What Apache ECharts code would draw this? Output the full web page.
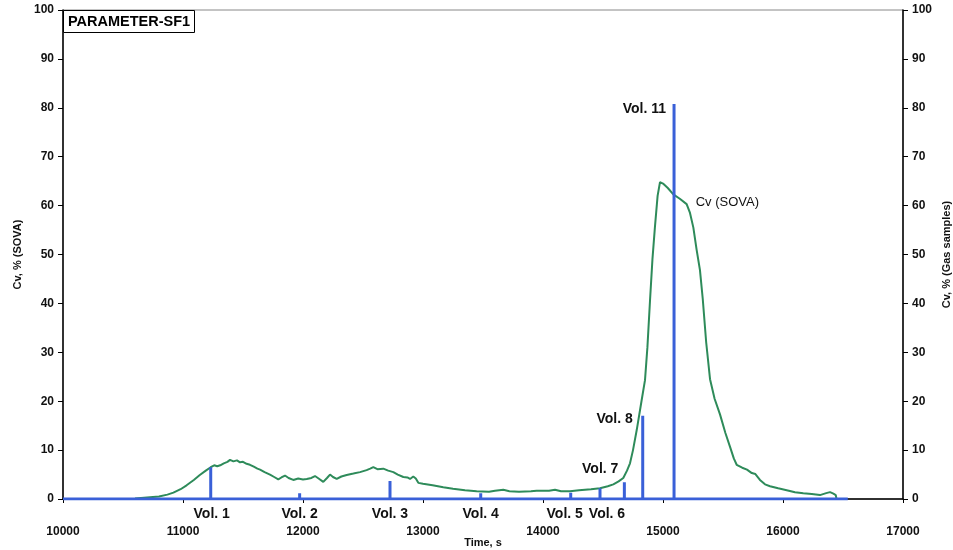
<!DOCTYPE html>
<html>
<head>
<meta charset="utf-8">
<script src="https://cdn.jsdelivr.net/npm/echarts@6/dist/echarts.min.js"></script>
<style>
  html, body { margin: 0; padding: 0; background: #fff; }
  #chart { width: 953px; height: 550px; }
</style>
</head>
<body>
<div id="chart"></div>
<script>
  // Cv (SOVA) curve
  var sovaTime = [10600, 10700, 10800, 10870, 10920, 10980, 11030, 11090, 11140, 11190, 11231, 11260, 11285, 11310, 11340, 11370, 11392, 11420, 11450, 11475,
    11500, 11530, 11558, 11590, 11620, 11642, 11680, 11725, 11760, 11794, 11820, 11850, 11880, 11919, 11960, 12000, 12031, 12070, 12100, 12130,
    12169, 12200, 12225, 12250, 12281, 12320, 12364, 12420, 12475, 12530, 12560, 12586, 12620, 12669, 12710, 12753, 12790, 12836, 12870, 12892,
    12919, 12940, 12961, 13000, 13080, 13169, 13250, 13350, 13447, 13550, 13600, 13669, 13720, 13800, 13900, 13947, 14050, 14100, 14150, 14225,
    14300, 14400, 14475, 14540, 14586, 14630, 14669, 14700, 14725, 14750, 14781, 14822, 14850, 14870, 14892, 14912, 14933, 14955, 14975, 15000,
    15040, 15086, 15140, 15197, 15225, 15253, 15280, 15308, 15331, 15360, 15392, 15430, 15475, 15520, 15558, 15590, 15614, 15660, 15700, 15740,
    15770, 15808, 15850, 15892, 15960, 16031, 16100, 16169, 16240, 16308, 16360, 16392, 16420, 16440, 16445];
  var sovaValue = [0.1, 0.3, 0.5, 0.9, 1.3, 2.0, 2.8, 3.9, 4.9, 5.8, 6.5, 6.9, 6.7, 6.9, 7.3, 7.6, 8.0, 7.7, 7.9, 7.5,
    7.6, 7.2, 7.0, 6.6, 6.2, 6.0, 5.5, 5.0, 4.5, 4.0, 4.4, 4.8, 4.3, 3.9, 4.2, 4.0, 4.1, 4.3, 4.7, 4.2,
    3.5, 4.3, 5.0, 4.5, 4.1, 4.6, 4.9, 5.2, 5.5, 5.9, 6.2, 6.5, 6.1, 6.2, 5.8, 5.5, 5.0, 4.5, 4.4, 4.1,
    4.6, 4.2, 3.3, 3.1, 2.8, 2.4, 2.1, 1.8, 1.6, 1.5, 1.7, 1.9, 1.6, 1.5, 1.6, 1.7, 1.7, 1.9, 1.6, 1.6,
    1.8, 2.0, 2.2, 2.6, 3.0, 3.6, 4.3, 5.8, 7.3, 10.0, 14.1, 20.2, 24.3, 31, 40.7, 49, 55.7, 62, 64.8, 64.5,
    63.6, 62.3, 61.4, 60.3, 58.5, 55.5, 51, 46.8, 41, 32, 24.5, 20.5, 17.3, 13.5, 10.7, 8.3, 7.0, 6.4, 6.0, 5.3,
    5.1, 3.9, 3.0, 2.6, 2.2, 1.8, 1.4, 1.2, 1.0, 0.8, 1.2, 1.4, 1.1, 0.8, 0.1];
  var sovaLabelTime = 15197;

  // gas samples
  var sampleNames = ['Vol. 1', 'Vol. 2', 'Vol. 3', 'Vol. 4', 'Vol. 5', 'Vol. 6', 'Vol. 7', 'Vol. 8', 'Vol. 11'];
  var sampleTime = [11231, 11972, 12725, 13481, 14231, 14475, 14678, 14831, 15092];
  var sampleValue = [6.5, 1.2, 3.7, 1.2, 1.3, 2.2, 3.4, 17, 80.8];
  var baselineStart = 10000;
  var baselineEnd = 16540;

  var xTicks = [10000, 11000, 12000, 13000, 14000, 15000, 16000, 17000];
  var yTicks = [0, 10, 20, 30, 40, 50, 60, 70, 80, 90, 100];

  var FONT = '"Liberation Sans", Arial, sans-serif';
  var BLUE = '#3a60d8';
  var GREEN = '#2e8b5a';

  // labels under the axis for the first six samples, beside the top for the others
  var underAxis = 6;
  var underOffset = [1, 0, 0, 0, -6, 7];
  var topOffset = {6: [0, -13], 7: [-4, 3], 8: [-2, 5]};

  var gasData = [[baselineStart, 0]];
  sampleTime.forEach(function (t, i) {
    gasData.push([t, 0], [t, sampleValue[i]], [t, 0]);
  });
  gasData.push([baselineEnd, 0]);

  var boldLabel = {fontFamily: FONT, fontSize: 14, fontWeight: 'bold', color: '#111'};

  var volLabelData = [];
  var topLabelData = [];
  sampleTime.forEach(function (t, i) {
    if (i < underAxis) {
      volLabelData.push({
        value: [t, 0],
        label: {offset: [underOffset[i], 0], formatter: sampleNames[i]}
      });
    } else {
      topLabelData.push({
        value: [t, sampleValue[i]],
        label: {offset: topOffset[i], formatter: sampleNames[i]}
      });
    }
  });

  var sovaLabelData = [];
  sovaTime.forEach(function (t, i) {
    if (t === sovaLabelTime) sovaLabelData.push({value: [t, sovaValue[i]]});
  });

  function yAxis(name, pos, gap) {
    return {
      type: 'value',
      position: pos,
      min: yTicks[0],
      max: yTicks[yTicks.length - 1],
      interval: yTicks[1] - yTicks[0],
      name: name,
      nameLocation: 'middle',
      nameRotate: 90,
      nameGap: gap,
      nameMoveOverlap: false,
      nameTextStyle: {fontFamily: FONT, fontSize: 11, fontWeight: 'bold', color: '#111'},
      axisLine: {show: true, lineStyle: {color: '#000', width: 1.5}},
      axisTick: {show: true, length: 5, lineStyle: {color: '#000'}},
      axisLabel: {margin: 9, fontFamily: FONT, fontSize: 12, fontWeight: 'bold', color: '#111'},
      splitLine: {show: false}
    };
  }

  function labelSeries(name, data, yIndex, label) {
    return {
      name: name,
      type: 'scatter',
      yAxisIndex: yIndex,
      data: data,
      symbolSize: 0,
      silent: true,
      itemStyle: {opacity: 1},
      label: Object.assign({show: true}, label),
      z: 4
    };
  }

  var chart = echarts.init(document.getElementById('chart'));
  chart.setOption({
    animation: false,
    backgroundColor: '#fff',
    title: {
      text: 'PARAMETER-SF1',
      left: 63,
      top: 10,
      padding: [4, 5],
      borderColor: '#000',
      borderWidth: 1,
      backgroundColor: '#fff',
      textStyle: {fontFamily: FONT, fontSize: 14.5, fontWeight: 'bold', color: '#000'}
    },
    grid: {
      left: 63, right: 50, top: 10, bottom: 51,
      outerBoundsMode: 'none',
      containLabel: false,
      show: true, borderColor: '#888', borderWidth: 1
    },
    xAxis: {
      type: 'value',
      min: xTicks[0],
      max: xTicks[xTicks.length - 1],
      interval: xTicks[1] - xTicks[0],
      name: 'Time, s',
      nameLocation: 'middle',
      nameGap: 38,
      nameMoveOverlap: false,
      nameTextStyle: {fontFamily: FONT, fontSize: 11, fontWeight: 'bold', color: '#111'},
      axisLine: {lineStyle: {color: '#000', width: 1.5}},
      axisTick: {length: 4, lineStyle: {color: '#000'}},
      axisLabel: {
        margin: 27, fontFamily: FONT, fontSize: 12, fontWeight: 'bold', color: '#111',
        formatter: function (v) { return String(v); }
      },
      splitLine: {show: false}
    },
    yAxis: [
      yAxis('Cv, % (SOVA)', 'left', 40),
      yAxis('Cv, % (Gas samples)', 'right', 38)
    ],
    series: [
      {
        name: 'Cv (SOVA)',
        type: 'line',
        data: sovaTime.map(function (t, i) { return [t, sovaValue[i]]; }),
        showSymbol: false,
        symbol: 'none',
        lineStyle: {color: GREEN, width: 2},
        itemStyle: {color: GREEN},
        z: 2
      },
      {
        name: 'Gas samples',
        type: 'line',
        yAxisIndex: 1,
        data: gasData,
        symbol: 'none',
        showSymbol: false,
        lineStyle: {color: BLUE, width: 3},
        itemStyle: {color: BLUE},
        z: 3
      },
      labelSeries('sample labels', volLabelData, 0,
        Object.assign({position: 'bottom', distance: 8}, boldLabel)),
      labelSeries('sample top labels', topLabelData, 1,
        Object.assign({position: 'left', distance: 6}, boldLabel)),
      labelSeries('sova label', sovaLabelData, 0, {
        position: 'right', distance: 9, offset: [0, -2],
        formatter: 'Cv (SOVA)', fontFamily: FONT, fontSize: 13, color: '#111'
      })
    ]
  });
</script>
</body>
</html>
